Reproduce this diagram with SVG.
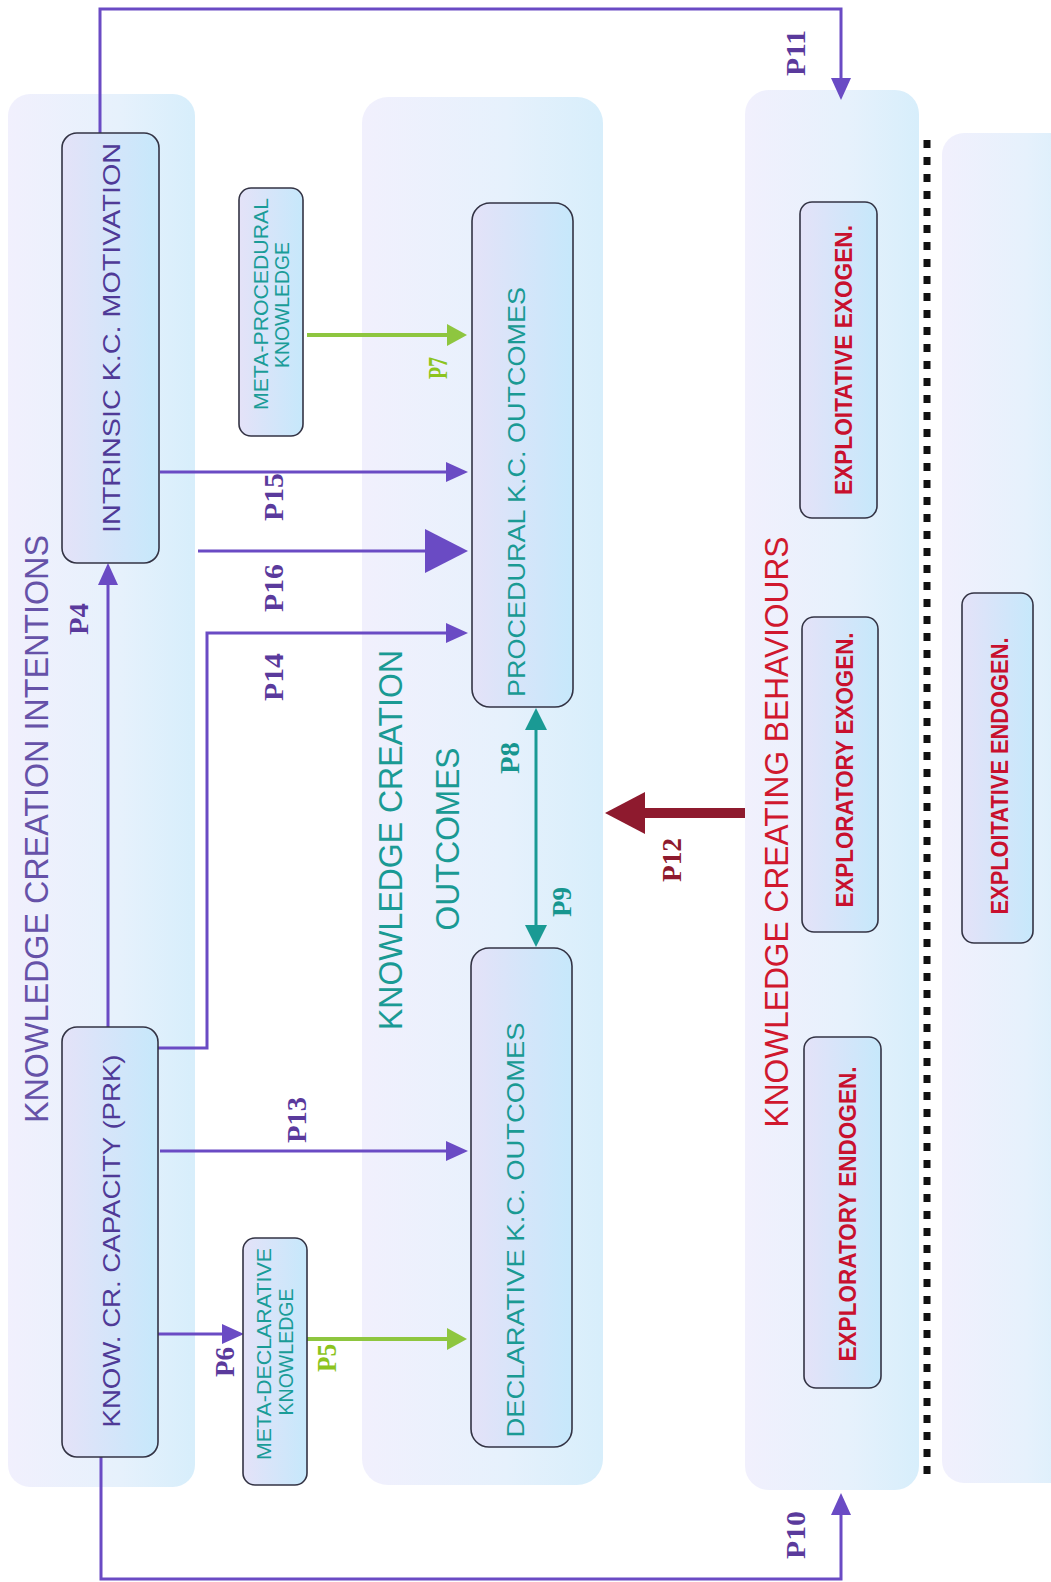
<svg xmlns="http://www.w3.org/2000/svg" width="1051" height="1582" viewBox="0 0 1051 1582">
<style>
.lane{stroke:none}
.node{stroke:#333344;stroke-width:1.6}
.t{font-family:"Liberation Sans",Arial,sans-serif;text-anchor:middle}
.title{font-size:33px}
.nt{font-size:24px}
.mt{font-size:20px;fill:#1a9c98}
.rt{font-size:23px;font-weight:bold;fill:#c8102e}
.pur{fill:#4f3a97}
.tpur{fill:#6652a8}
.teal{fill:#1a9a94}
.red{fill:#d0182e}
.lab{font-family:"Liberation Serif","Times New Roman",serif;font-weight:bold;font-size:27px;text-anchor:middle}
.lp{fill:#5a3a9c}
.lg{fill:#8cc41e}
.lt{fill:#17968f}
.lr{fill:#8e1a2e}
.cp{fill:none;stroke:#6a4bc4;stroke-width:3}
.cg{fill:none;stroke:#8ec63f;stroke-width:4}
.ct{fill:none;stroke:#1a9a94;stroke-width:3}
</style>
<defs>
<linearGradient id="laneG" x1="0" y1="0" x2="1" y2="0">
<stop offset="0" stop-color="#f1f0fd"/>
<stop offset="0.6" stop-color="#e6f1fc"/>
<stop offset="1" stop-color="#d7eefb"/>
</linearGradient>
<linearGradient id="nodeG" x1="0" y1="0" x2="1" y2="0">
<stop offset="0" stop-color="#e4e2f8"/>
<stop offset="1" stop-color="#c6e8fb"/>
</linearGradient>
<marker id="aP" markerUnits="userSpaceOnUse" orient="auto" overflow="visible" markerWidth="1" markerHeight="1" refX="0" refY="0">
<path d="M0,-10 L22,0 L0,10 z" fill="#6a4bc4"/>
</marker>
<marker id="aPB" markerUnits="userSpaceOnUse" orient="auto" overflow="visible" markerWidth="1" markerHeight="1" refX="0" refY="0">
<path d="M0,-22 L43,0 L0,22 z" fill="#6a4bc4"/>
</marker>
<marker id="aG" markerUnits="userSpaceOnUse" orient="auto" overflow="visible" markerWidth="1" markerHeight="1" refX="0" refY="0">
<path d="M0,-11 L20,0 L0,11 z" fill="#8ec63f"/>
</marker>
<marker id="aT" markerUnits="userSpaceOnUse" orient="auto-start-reverse" overflow="visible" markerWidth="1" markerHeight="1" refX="0" refY="0">
<path d="M0,-11 L22,0 L0,11 z" fill="#1a9a94"/>
</marker>
<marker id="aR" markerUnits="userSpaceOnUse" orient="auto" overflow="visible" markerWidth="1" markerHeight="1" refX="0" refY="0">
<path d="M0,-21 L40,0 L0,21 z" fill="#8e1a2e"/>
</marker>
</defs>
<rect width="1051" height="1582" fill="#ffffff"/>

<g id="lane-intentions">
<rect class="lane" x="8" y="94" width="187" height="1393" rx="22" fill="url(#laneG)"/>
<text class="t title tpur" transform="translate(48,829) rotate(-90)" textLength="588" lengthAdjust="spacingAndGlyphs">KNOWLEDGE CREATION INTENTIONS</text>
</g>
<g id="lane-outcomes">
<rect class="lane" x="362" y="97" width="241" height="1388" rx="26" fill="url(#laneG)"/>
<text class="t title teal" transform="translate(402,840) rotate(-90)" textLength="380" lengthAdjust="spacingAndGlyphs">KNOWLEDGE CREATION</text>
<text class="t title teal" transform="translate(459,839) rotate(-90)" textLength="183" lengthAdjust="spacingAndGlyphs">OUTCOMES</text>
</g>
<g id="lane-behaviours">
<rect class="lane" x="745" y="90" width="174" height="1400" rx="24" fill="url(#laneG)"/>
<text class="t title red" transform="translate(788,832) rotate(-90)" textLength="591" lengthAdjust="spacingAndGlyphs">KNOWLEDGE CREATING BEHAVIOURS</text>
</g>
<g id="lane-right">
<rect class="lane" x="942" y="133" width="140" height="1350" rx="22" fill="url(#laneG)"/>
</g>
<line id="divider" x1="927" y1="140" x2="927" y2="1483" stroke="#111111" stroke-width="7" stroke-dasharray="8 9"/>

<g id="connectors">
<path class="cp" d="M100,133 V9 H841 V78" marker-end="url(#aP)"/>
<path class="cp" d="M101,1457 V1579 H841 V1515" marker-end="url(#aP)"/>
<path class="cp" d="M108,1027 V585" marker-end="url(#aP)"/>
<path class="cp" d="M160,472 H446" marker-end="url(#aP)"/>
<path class="cp" d="M198,551 H425" stroke-width="10" marker-end="url(#aPB)"/>
<path class="cp" d="M158,1048 H207 V633 H446" marker-end="url(#aP)"/>
<path class="cp" d="M160,1151 H446" marker-end="url(#aP)"/>
<path class="cp" d="M153,1334 H222" stroke-width="5" marker-end="url(#aP)"/>
<path class="cg" d="M306,1339 H447" marker-end="url(#aG)"/>
<path class="cg" d="M307,335 H447" marker-end="url(#aG)"/>
<path class="ct" d="M536,730 V925" marker-start="url(#aT)" marker-end="url(#aT)"/>
<path d="M745,813 H645" fill="none" stroke="#8e1a2e" stroke-width="10" marker-end="url(#aR)"/>
</g>

<g id="labels">
<text class="lab lp" transform="translate(805,53) rotate(-90)" textLength="46" lengthAdjust="spacingAndGlyphs">P11</text>
<text class="lab lp" transform="translate(805,1535) rotate(-90)" textLength="48" lengthAdjust="spacingAndGlyphs">P10</text>
<text class="lab lp" transform="translate(88,619) rotate(-90)" textLength="32" lengthAdjust="spacingAndGlyphs">P4</text>
<text class="lab lp" transform="translate(283,497) rotate(-90)" textLength="48" lengthAdjust="spacingAndGlyphs">P15</text>
<text class="lab lp" transform="translate(283,588) rotate(-90)" textLength="48" lengthAdjust="spacingAndGlyphs">P16</text>
<text class="lab lp" transform="translate(283,677) rotate(-90)" textLength="48" lengthAdjust="spacingAndGlyphs">P14</text>
<text class="lab lp" transform="translate(306,1120) rotate(-90)" textLength="46" lengthAdjust="spacingAndGlyphs">P13</text>
<text class="lab lp" transform="translate(234,1362) rotate(-90)" textLength="30" lengthAdjust="spacingAndGlyphs">P6</text>
<text class="lab lg" transform="translate(336,1358) rotate(-90)" textLength="28" lengthAdjust="spacingAndGlyphs">P5</text>
<text class="lab lg" transform="translate(447,368) rotate(-90)" textLength="22" lengthAdjust="spacingAndGlyphs">P7</text>
<text class="lab lt" transform="translate(519,758) rotate(-90)" textLength="32" lengthAdjust="spacingAndGlyphs">P8</text>
<text class="lab lt" transform="translate(571,902) rotate(-90)" textLength="30" lengthAdjust="spacingAndGlyphs">P9</text>
<text class="lab lr" transform="translate(681,860) rotate(-90)" textLength="44" lengthAdjust="spacingAndGlyphs">P12</text>
</g>

<g id="n-intrinsic">
<rect class="node" x="62" y="133" width="97" height="430" rx="15" fill="url(#nodeG)"/>
<text class="t nt pur" transform="translate(120,338) rotate(-90)" textLength="390" lengthAdjust="spacingAndGlyphs">INTRINSIC K.C. MOTIVATION</text>
</g>
<g id="n-capacity">
<rect class="node" x="62" y="1027" width="96" height="430" rx="15" fill="url(#nodeG)"/>
<text class="t nt pur" transform="translate(120,1241) rotate(-90)" textLength="373" lengthAdjust="spacingAndGlyphs">KNOW. CR. CAPACITY (PRK)</text>
</g>
<g id="n-metaproc">
<rect class="node" x="239" y="188" width="64" height="248" rx="12" fill="url(#nodeG)"/>
<text class="t mt" transform="translate(268,304) rotate(-90)" textLength="212" lengthAdjust="spacingAndGlyphs">META-PROCEDURAL</text>
<text class="t mt" transform="translate(289,305) rotate(-90)" textLength="126" lengthAdjust="spacingAndGlyphs">KNOWLEDGE</text>
</g>
<g id="n-metadecl">
<rect class="node" x="243" y="1238" width="64" height="247" rx="12" fill="url(#nodeG)"/>
<text class="t mt" transform="translate(271,1354) rotate(-90)" textLength="212" lengthAdjust="spacingAndGlyphs">META-DECLARATIVE</text>
<text class="t mt" transform="translate(293,1352) rotate(-90)" textLength="127" lengthAdjust="spacingAndGlyphs">KNOWLEDGE</text>
</g>
<g id="n-procedural">
<rect class="node" x="472" y="203" width="101" height="504" rx="18" fill="url(#nodeG)"/>
<text class="t nt teal" transform="translate(525,492) rotate(-90)" textLength="410" lengthAdjust="spacingAndGlyphs">PROCEDURAL K.C. OUTCOMES</text>
</g>
<g id="n-declarative">
<rect class="node" x="471" y="948" width="101" height="499" rx="18" fill="url(#nodeG)"/>
<text class="t nt teal" transform="translate(524,1230) rotate(-90)" textLength="415" lengthAdjust="spacingAndGlyphs">DECLARATIVE K.C. OUTCOMES</text>
</g>
<g id="n-exploit-exo">
<rect class="node" x="800" y="202" width="77" height="316" rx="12" fill="url(#nodeG)"/>
<text class="t rt" transform="translate(852,360) rotate(-90)" textLength="270" lengthAdjust="spacingAndGlyphs">EXPLOITATIVE EXOGEN.</text>
</g>
<g id="n-explor-exo">
<rect class="node" x="802" y="617" width="76" height="315" rx="12" fill="url(#nodeG)"/>
<text class="t rt" transform="translate(853,770) rotate(-90)" textLength="275" lengthAdjust="spacingAndGlyphs">EXPLORATORY EXOGEN.</text>
</g>
<g id="n-explor-endo">
<rect class="node" x="804" y="1037" width="77" height="351" rx="12" fill="url(#nodeG)"/>
<text class="t rt" transform="translate(856,1214) rotate(-90)" textLength="295" lengthAdjust="spacingAndGlyphs">EXPLORATORY ENDOGEN.</text>
</g>
<g id="n-exploit-endo">
<rect class="node" x="962" y="593" width="71" height="350" rx="12" fill="url(#nodeG)"/>
<text class="t rt" transform="translate(1008,776) rotate(-90)" textLength="277" lengthAdjust="spacingAndGlyphs">EXPLOITATIVE ENDOGEN.</text>
</g>
</svg>
